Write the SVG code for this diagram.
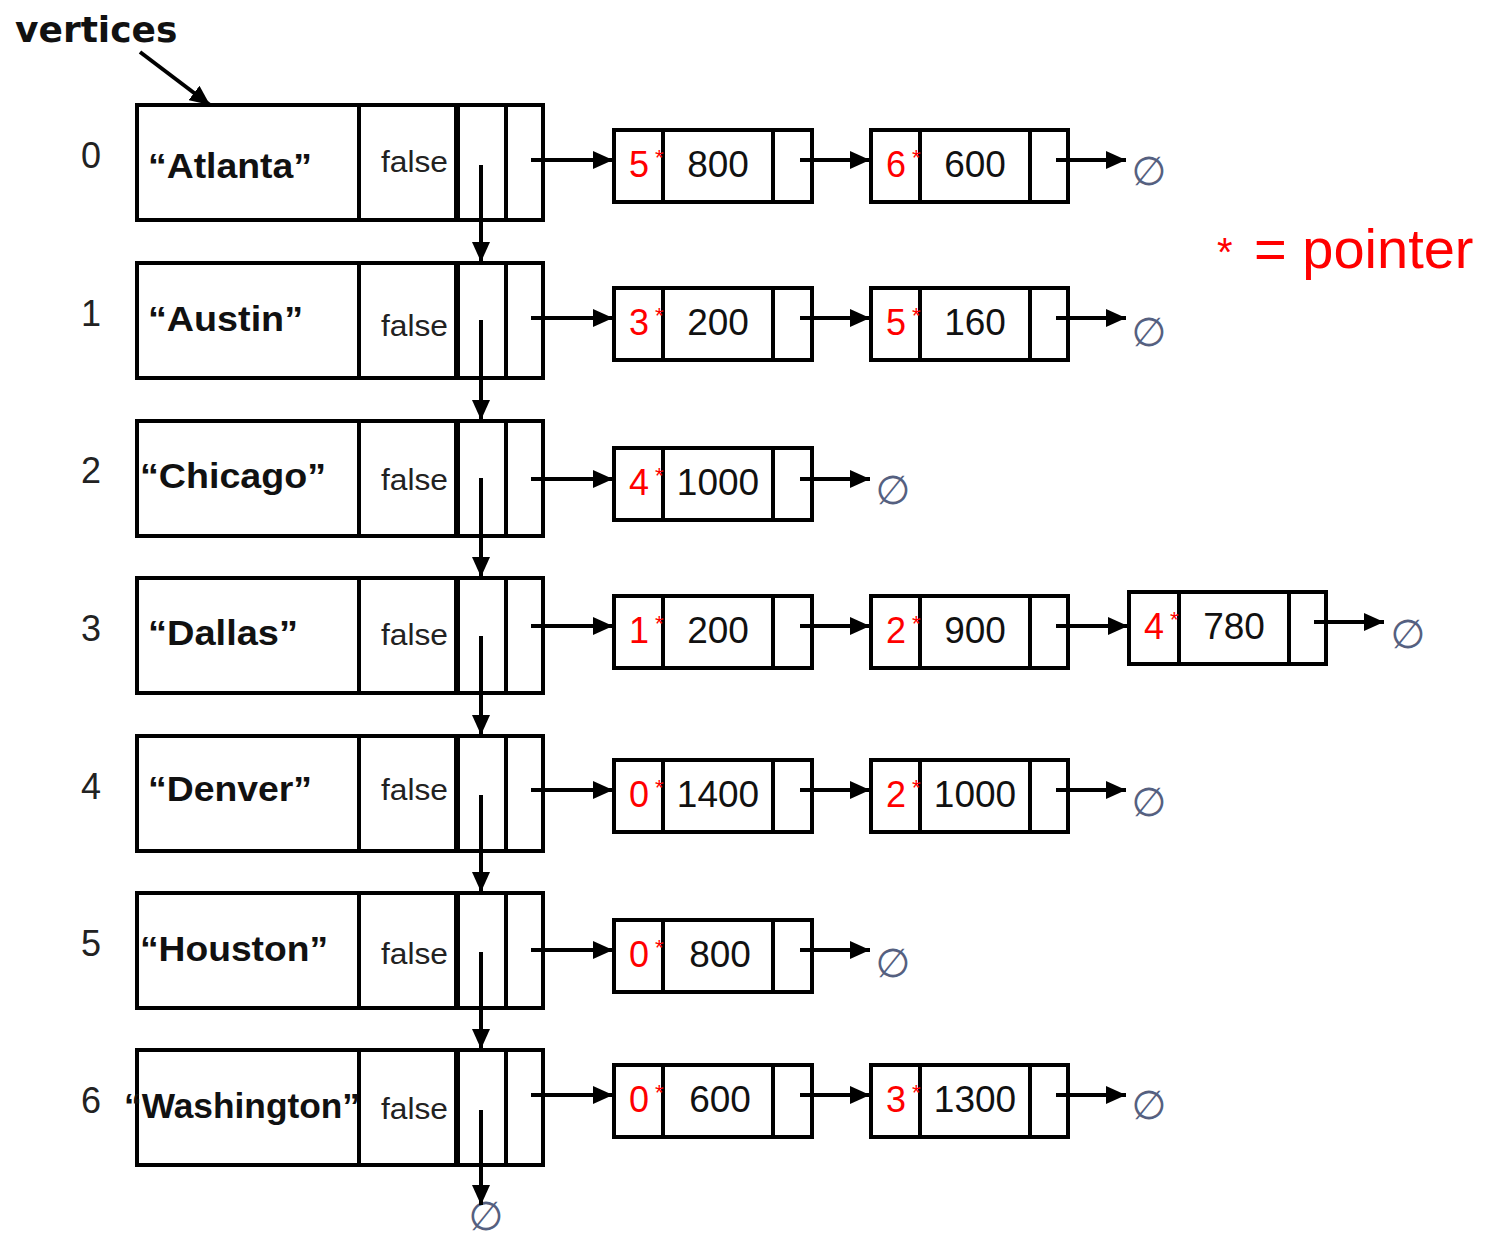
<svg xmlns="http://www.w3.org/2000/svg" width="1486" height="1239" viewBox="0 0 1486 1239">
<defs>
<marker id="ah" markerUnits="userSpaceOnUse" markerWidth="22" markerHeight="18" refX="20" refY="9" orient="auto">
<path d="M0,0 L20,9 L0,18 Z" fill="#000"/>
</marker>
<style>
.box{fill:#fff;stroke:#000;stroke-width:4}
.div{stroke:#000;stroke-width:4}
.thick{stroke:#000;stroke-width:6}
.con{stroke:#000;stroke-width:4;fill:none;marker-end:url(#ah)}
.idx{font-family:"Liberation Sans",Arial,sans-serif;font-size:36px;fill:#222;text-anchor:middle}
.name{font-family:"Liberation Sans",Arial,sans-serif;font-size:35px;font-weight:bold;fill:#111}
.fal{font-family:"Liberation Sans",Arial,sans-serif;font-size:30px;fill:#222}
.red{font-family:"Liberation Sans",Arial,sans-serif;font-size:36px;fill:#f00;text-anchor:middle}
.star{font-family:"Liberation Sans",Arial,sans-serif;font-size:22px;fill:#f00}
.val{font-family:"Liberation Sans",Arial,sans-serif;font-size:37px;fill:#111;text-anchor:middle}
.nul{font-family:"DejaVu Sans",sans-serif;font-size:40px;fill:#556080;text-anchor:middle}
.lbl{font-family:"DejaVu Sans",sans-serif;font-size:36px;font-weight:bold;fill:#111}
</style>
</defs>

<text class="lbl" x="15" y="42">vertices</text>
<text x="1217" y="268" font-family="Liberation Sans,Arial,sans-serif" fill="#f00"><tspan font-size="40" dy="-2">*</tspan><tspan font-size="56" x="1254" dy="2">= pointer</tspan></text>

<!-- vertex nodes -->
<g id="v0">
<rect class="box" x="137" y="105" width="406" height="115"/>
<line class="div" x1="359" y1="105" x2="359" y2="220"/><line class="thick" x1="457" y1="105" x2="457" y2="220"/><line class="div" x1="506" y1="105" x2="506" y2="220"/>
<text class="idx" x="91" y="168">0</text>
<text class="name" x="148" y="178" textLength="164" lengthAdjust="spacingAndGlyphs">“Atlanta”</text>
<text class="fal" x="381" y="172" textLength="67" lengthAdjust="spacingAndGlyphs">false</text>
</g>
<g id="v1">
<rect class="box" x="137" y="263" width="406" height="115"/>
<line class="div" x1="359" y1="263" x2="359" y2="378"/><line class="thick" x1="457" y1="263" x2="457" y2="378"/><line class="div" x1="506" y1="263" x2="506" y2="378"/>
<text class="idx" x="91" y="326">1</text>
<text class="name" x="148" y="331" textLength="155" lengthAdjust="spacingAndGlyphs">“Austin”</text>
<text class="fal" x="381" y="336" textLength="67" lengthAdjust="spacingAndGlyphs">false</text>
</g>
<g id="v2">
<rect class="box" x="137" y="421" width="406" height="115"/>
<line class="div" x1="359" y1="421" x2="359" y2="536"/><line class="thick" x1="457" y1="421" x2="457" y2="536"/><line class="div" x1="506" y1="421" x2="506" y2="536"/>
<text class="idx" x="91" y="483">2</text>
<text class="name" x="140" y="488" textLength="186" lengthAdjust="spacingAndGlyphs">“Chicago”</text>
<text class="fal" x="381" y="490" textLength="67" lengthAdjust="spacingAndGlyphs">false</text>
</g>
<g id="v3">
<rect class="box" x="137" y="578" width="406" height="115"/>
<line class="div" x1="359" y1="578" x2="359" y2="693"/><line class="thick" x1="457" y1="578" x2="457" y2="693"/><line class="div" x1="506" y1="578" x2="506" y2="693"/>
<text class="idx" x="91" y="641">3</text>
<text class="name" x="148" y="645" textLength="150" lengthAdjust="spacingAndGlyphs">“Dallas”</text>
<text class="fal" x="381" y="645" textLength="67" lengthAdjust="spacingAndGlyphs">false</text>
</g>
<g id="v4">
<rect class="box" x="137" y="736" width="406" height="115"/>
<line class="div" x1="359" y1="736" x2="359" y2="851"/><line class="thick" x1="457" y1="736" x2="457" y2="851"/><line class="div" x1="506" y1="736" x2="506" y2="851"/>
<text class="idx" x="91" y="799">4</text>
<text class="name" x="148" y="801" textLength="164" lengthAdjust="spacingAndGlyphs">“Denver”</text>
<text class="fal" x="381" y="800" textLength="67" lengthAdjust="spacingAndGlyphs">false</text>
</g>
<g id="v5">
<rect class="box" x="137" y="893" width="406" height="115"/>
<line class="div" x1="359" y1="893" x2="359" y2="1008"/><line class="thick" x1="457" y1="893" x2="457" y2="1008"/><line class="div" x1="506" y1="893" x2="506" y2="1008"/>
<text class="idx" x="91" y="956">5</text>
<text class="name" x="140" y="961" textLength="188" lengthAdjust="spacingAndGlyphs">“Houston”</text>
<text class="fal" x="381" y="964" textLength="67" lengthAdjust="spacingAndGlyphs">false</text>
</g>
<g id="v6">
<rect class="box" x="137" y="1050" width="406" height="115"/>
<line class="div" x1="359" y1="1050" x2="359" y2="1165"/><line class="thick" x1="457" y1="1050" x2="457" y2="1165"/><line class="div" x1="506" y1="1050" x2="506" y2="1165"/>
<text class="idx" x="91" y="1113">6</text>
<text class="name" x="124" y="1118" textLength="236" lengthAdjust="spacingAndGlyphs">“Washington”</text>
<text class="fal" x="381" y="1119" textLength="67" lengthAdjust="spacingAndGlyphs">false</text>
</g>

<!-- edge list nodes -->
<g id="e0a"><rect class="box" x="614" y="130" width="198" height="72"/><line class="div" x1="663" y1="130" x2="663" y2="202"/><line class="div" x1="773" y1="130" x2="773" y2="202"/>
<text class="red" x="639" y="177">5</text><text class="star" x="655" y="165">*</text><text class="val" x="718" y="177">800</text></g>
<g id="e0b"><rect class="box" x="871" y="130" width="197" height="72"/><line class="div" x1="920" y1="130" x2="920" y2="202"/><line class="div" x1="1030" y1="130" x2="1030" y2="202"/>
<text class="red" x="896" y="177">6</text><text class="star" x="912" y="165">*</text><text class="val" x="975" y="177">600</text></g>

<g id="e1a"><rect class="box" x="614" y="288" width="198" height="72"/><line class="div" x1="663" y1="288" x2="663" y2="360"/><line class="div" x1="773" y1="288" x2="773" y2="360"/>
<text class="red" x="639" y="335">3</text><text class="star" x="655" y="323">*</text><text class="val" x="718" y="335">200</text></g>
<g id="e1b"><rect class="box" x="871" y="288" width="197" height="72"/><line class="div" x1="920" y1="288" x2="920" y2="360"/><line class="div" x1="1030" y1="288" x2="1030" y2="360"/>
<text class="red" x="896" y="335">5</text><text class="star" x="912" y="323">*</text><text class="val" x="975" y="335">160</text></g>

<g id="e2a"><rect class="box" x="614" y="448" width="198" height="72"/><line class="div" x1="663" y1="448" x2="663" y2="520"/><line class="div" x1="773" y1="448" x2="773" y2="520"/>
<text class="red" x="639" y="495">4</text><text class="star" x="655" y="483">*</text><text class="val" x="718" y="495">1000</text></g>

<g id="e3a"><rect class="box" x="614" y="596" width="198" height="72"/><line class="div" x1="663" y1="596" x2="663" y2="668"/><line class="div" x1="773" y1="596" x2="773" y2="668"/>
<text class="red" x="639" y="643">1</text><text class="star" x="655" y="631">*</text><text class="val" x="718" y="643">200</text></g>
<g id="e3b"><rect class="box" x="871" y="596" width="197" height="72"/><line class="div" x1="920" y1="596" x2="920" y2="668"/><line class="div" x1="1030" y1="596" x2="1030" y2="668"/>
<text class="red" x="896" y="643">2</text><text class="star" x="912" y="631">*</text><text class="val" x="975" y="643">900</text></g>
<g id="e3c"><rect class="box" x="1129" y="592" width="197" height="72"/><line class="div" x1="1179" y1="592" x2="1179" y2="664"/><line class="div" x1="1289" y1="592" x2="1289" y2="664"/>
<text class="red" x="1154" y="639">4</text><text class="star" x="1170" y="627">*</text><text class="val" x="1234" y="639">780</text></g>

<g id="e4a"><rect class="box" x="614" y="760" width="198" height="72"/><line class="div" x1="663" y1="760" x2="663" y2="832"/><line class="div" x1="773" y1="760" x2="773" y2="832"/>
<text class="red" x="639" y="807">0</text><text class="star" x="655" y="795">*</text><text class="val" x="718" y="807">1400</text></g>
<g id="e4b"><rect class="box" x="871" y="760" width="197" height="72"/><line class="div" x1="920" y1="760" x2="920" y2="832"/><line class="div" x1="1030" y1="760" x2="1030" y2="832"/>
<text class="red" x="896" y="807">2</text><text class="star" x="912" y="795">*</text><text class="val" x="975" y="807">1000</text></g>

<g id="e5a"><rect class="box" x="614" y="920" width="198" height="72"/><line class="div" x1="663" y1="920" x2="663" y2="992"/><line class="div" x1="773" y1="920" x2="773" y2="992"/>
<text class="red" x="639" y="967">0</text><text class="star" x="655" y="955">*</text><text class="val" x="720" y="967">800</text></g>

<g id="e6a"><rect class="box" x="614" y="1065" width="198" height="72"/><line class="div" x1="663" y1="1065" x2="663" y2="1137"/><line class="div" x1="773" y1="1065" x2="773" y2="1137"/>
<text class="red" x="639" y="1112">0</text><text class="star" x="655" y="1100">*</text><text class="val" x="720" y="1112">600</text></g>
<g id="e6b"><rect class="box" x="871" y="1065" width="197" height="72"/><line class="div" x1="920" y1="1065" x2="920" y2="1137"/><line class="div" x1="1030" y1="1065" x2="1030" y2="1137"/>
<text class="red" x="896" y="1112">3</text><text class="star" x="912" y="1100">*</text><text class="val" x="975" y="1112">1300</text></g>

<!-- null markers -->
<g id="nulls">
<text class="nul" x="1149" y="185">∅</text>
<text class="nul" x="1149" y="346">∅</text>
<text class="nul" x="893" y="504">∅</text>
<text class="nul" x="1408" y="648">∅</text>
<text class="nul" x="1149" y="816">∅</text>
<text class="nul" x="893" y="977">∅</text>
<text class="nul" x="1149" y="1119">∅</text>
<text class="nul" x="486" y="1230" font-size="30">∅</text>
</g>

<!-- connectors -->
<g id="connectors">
<line class="con" x1="140" y1="52" x2="210" y2="105"/>
<line class="con" x1="481" y1="165" x2="481" y2="262"/>
<line class="con" x1="481" y1="320" x2="481" y2="420"/>
<line class="con" x1="481" y1="478" x2="481" y2="577"/>
<line class="con" x1="481" y1="636" x2="481" y2="735"/>
<line class="con" x1="481" y1="795" x2="481" y2="892"/>
<line class="con" x1="481" y1="952" x2="481" y2="1049"/>
<line class="con" x1="481" y1="1110" x2="481" y2="1205"/>

<line class="con" x1="531" y1="160" x2="613" y2="160"/>
<line class="con" x1="800" y1="160" x2="870" y2="160"/>
<line class="con" x1="1056" y1="160" x2="1126" y2="160"/>

<line class="con" x1="531" y1="318" x2="613" y2="318"/>
<line class="con" x1="800" y1="318" x2="870" y2="318"/>
<line class="con" x1="1056" y1="318" x2="1126" y2="318"/>

<line class="con" x1="531" y1="479" x2="613" y2="479"/>
<line class="con" x1="800" y1="479" x2="870" y2="479"/>

<line class="con" x1="531" y1="626" x2="613" y2="626"/>
<line class="con" x1="800" y1="626" x2="870" y2="626"/>
<line class="con" x1="1056" y1="626" x2="1128" y2="626"/>
<line class="con" x1="1314" y1="622" x2="1384" y2="622"/>

<line class="con" x1="531" y1="790" x2="613" y2="790"/>
<line class="con" x1="800" y1="790" x2="870" y2="790"/>
<line class="con" x1="1056" y1="790" x2="1126" y2="790"/>

<line class="con" x1="531" y1="950" x2="613" y2="950"/>
<line class="con" x1="800" y1="950" x2="870" y2="950"/>

<line class="con" x1="531" y1="1095" x2="613" y2="1095"/>
<line class="con" x1="800" y1="1095" x2="870" y2="1095"/>
<line class="con" x1="1056" y1="1095" x2="1126" y2="1095"/>
</g>
</svg>
